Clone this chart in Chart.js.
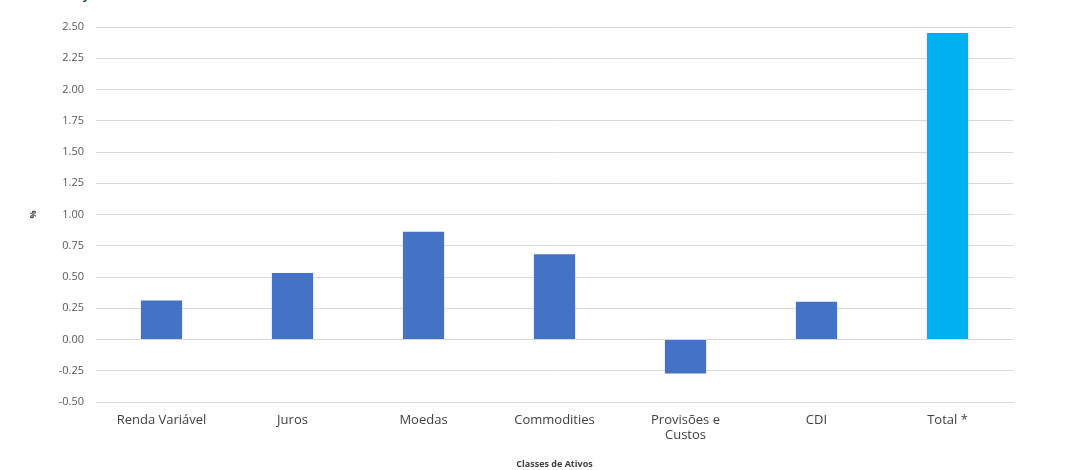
<!DOCTYPE html>
<html lang="pt-br">
<head>
<meta charset="UTF-8">
<title>Atribuição de Performance</title>
<script src="https://cdn.jsdelivr.net/npm/chart.js"></script>
<style>
    body { margin: 0; background: #fff; overflow: hidden; }
    .titulo {
        position: absolute; left: 28px; top: -17px; margin: 0;
        font: bold 15px "Open Sans", sans-serif; color: #1f3864;
    }
    .grafico { position: absolute; left: 0; top: 0; }
</style>
</head>
<body>
<h3 class="titulo">Atribuição de Performance</h3>
<div class="grafico"><canvas id="myChart1" width="1067" height="470"></canvas></div>

<script>
    // dados
    const classes = ["Renda Variável", "Juros", "Moedas", "Commodities", ["Provisões e", "Custos"], "CDI", "Total *"];
    const retorno = [0.32, 0.54, 0.87, 0.69, -0.28, 0.31, 2.46];
    const cores = ["#4472c4", "#4472c4", "#4472c4", "#4472c4", "#4472c4", "#4472c4", "#00b0f0"];

    const fonte = "'Open Sans', sans-serif";

    new Chart(document.getElementById('myChart1'), {
        type: "bar",
        data: {
            labels: classes,
            datasets: [{
                label: "%",
                data: retorno,
                backgroundColor: cores,
                borderColor: "rgba(255,255,255,0.35)",
                borderWidth: 1,
                barPercentage: 0.33,
                categoryPercentage: 1
            }]
        },
        options: {
            responsive: false,
            animation: false,
            devicePixelRatio: 1,
            layout: { padding: { top: 27, right: 54, bottom: 0, left: 0 } },
            plugins: { legend: { display: false }, tooltip: { enabled: false } },
            scales: {
                y: {
                    min: -0.5,
                    max: 2.5,
                    ticks: {
                        stepSize: 0.25,
                        color: '#595959',
                        font: { family: fonte, size: 11 },
                        padding: 12,
                        callback: v => v.toFixed(2)
                    },
                    grid: { color: '#d9d9d9', drawTicks: false },
                    border: { display: false },
                    title: {
                        display: true, text: '%', color: '#404040',
                        font: { family: fonte, size: 9, weight: 'bold' },
                        padding: { top: 28, bottom: 0 }
                    },
                    afterFit: s => { s.width = 96; }
                },
                x: {
                    ticks: {
                        color: '#404040',
                        font: { family: fonte, size: 13 },
                        padding: 10,
                        maxRotation: 0
                    },
                    grid: { display: false, drawTicks: false },
                    border: { color: '#d9d9d9' },
                    title: {
                        display: true, text: 'Classes de Ativos', color: '#404040',
                        font: { family: fonte, size: 9, weight: 'bold' },
                        padding: { top: 14, bottom: 0 }
                    },
                    afterFit: s => { s.height = 68; }
                }
            }
        }
    });
</script>
</body>
</html>
